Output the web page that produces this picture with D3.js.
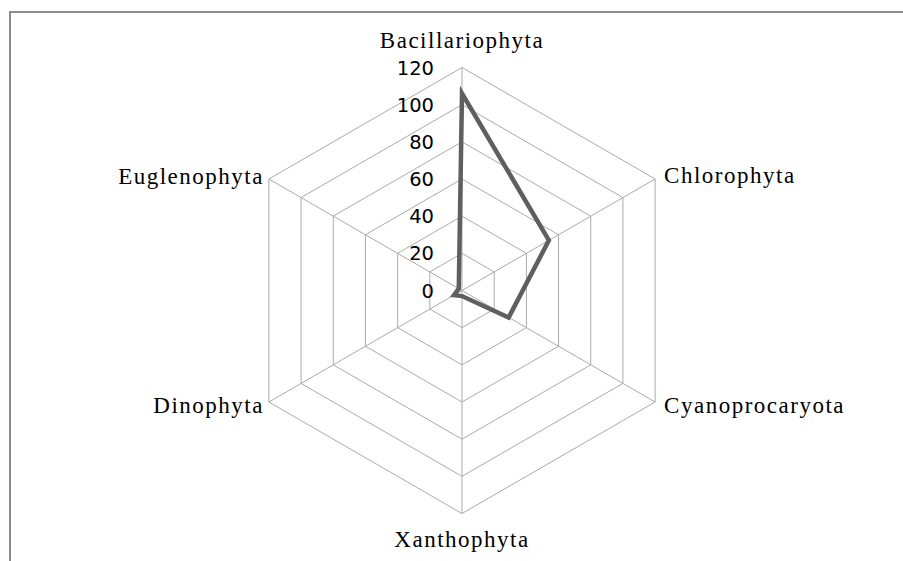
<!DOCTYPE html>
<html>
<head>
<meta charset="utf-8">
<script src="https://cdn.jsdelivr.net/npm/d3@7"></script>
<style>
  html, body { margin: 0; padding: 0; background: #fff; }
  svg { display: block; }
</style>
</head>
<body>
<div id="chart"></div>
<script>
// chart data
const categories = ['Bacillariophyta', 'Chlorophyta', 'Cyanoprocaryota', 'Xanthophyta', 'Dinophyta', 'Euglenophyta'];
const values = [106, 54, 29, 3, 5, 2];
const tickValues = [0, 20, 40, 60, 80, 100, 120];

const width = 903;
const height = 561;
const cx = 462;
const cy = 290.5;
const radius = 223;

const svg = d3.select('#chart')
  .append('svg')
  .attr('width', width)
  .attr('height', height);

// outer frame (cut off at right and bottom like the original)
svg.append('rect')
  .attr('x', 10)
  .attr('y', 12)
  .attr('width', 1000)
  .attr('height', 1000)
  .attr('fill', 'none')
  .attr('stroke', '#8c8c8c')
  .attr('stroke-width', 2);

const r = d3.scaleLinear()
  .domain([0, d3.max(tickValues)])
  .range([0, radius]);

const angle = (i) => (i / categories.length) * 2 * Math.PI;
const px = (i, v) => cx + r(v) * Math.sin(angle(i));
const py = (i, v) => cy - r(v) * Math.cos(angle(i));

const g = svg.append('g');

// rings
tickValues.filter(t => t > 0).forEach(t => {
  const pts = categories.map((c, i) => [px(i, t), py(i, t)]);
  g.append('path')
    .attr('d', d3.line().curve(d3.curveLinearClosed)(pts))
    .attr('fill', 'none')
    .attr('stroke', '#ababab')
    .attr('stroke-width', 1);
});

// spokes
categories.forEach((c, i) => {
  g.append('line')
    .attr('x1', cx)
    .attr('y1', cy)
    .attr('x2', px(i, d3.max(tickValues)))
    .attr('y2', py(i, d3.max(tickValues)))
    .attr('stroke', '#ababab')
    .attr('stroke-width', 1);
});

// series
const seriesPts = values.map((v, i) => [px(i, v), py(i, v)]);
g.append('path')
  .attr('d', d3.line().curve(d3.curveLinearClosed)(seriesPts))
  .attr('fill', 'none')
  .attr('stroke', '#5f5f5f')
  .attr('stroke-width', 4.5)
  .attr('stroke-linejoin', 'miter');

// tick labels
g.selectAll('.tick-label')
  .data(tickValues)
  .enter()
  .append('text')
  .attr('class', 'tick-label')
  .attr('x', cx - 28)
  .attr('y', d => cy - r(d))
  .attr('dy', '0.36em')
  .attr('text-anchor', 'end')
  .attr('font-family', 'DejaVu Sans, sans-serif')
  .attr('font-size', 19.5)
  .attr('fill', '#000')
  .text(d => d);

// category labels
categories.forEach((c, i) => {
  const vx = px(i, d3.max(tickValues));
  const vy = py(i, d3.max(tickValues));
  const s = Math.sin(angle(i));
  const co = Math.cos(angle(i));
  let x = vx, y = vy, anchor = 'middle';
  if (Math.abs(s) < 0.01) {
    y = co > 0 ? vy - 20 : vy + 33;
  } else if (s > 0) {
    anchor = 'start';
    x = vx + 9;
    y = co > 0 ? vy + 4 : vy + 11;
  } else {
    anchor = 'end';
    x = vx - 5;
    y = co > 0 ? vy + 5 : vy + 11;
  }
  g.append('text')
    .attr('x', x)
    .attr('y', y)
    .attr('text-anchor', anchor)
    .attr('font-family', 'Liberation Serif, Times New Roman, serif')
    .attr('font-size', 23)
    .attr('letter-spacing', 1.5)
    .attr('fill', '#000')
    .text(c);
});
</script>
</body>
</html>
